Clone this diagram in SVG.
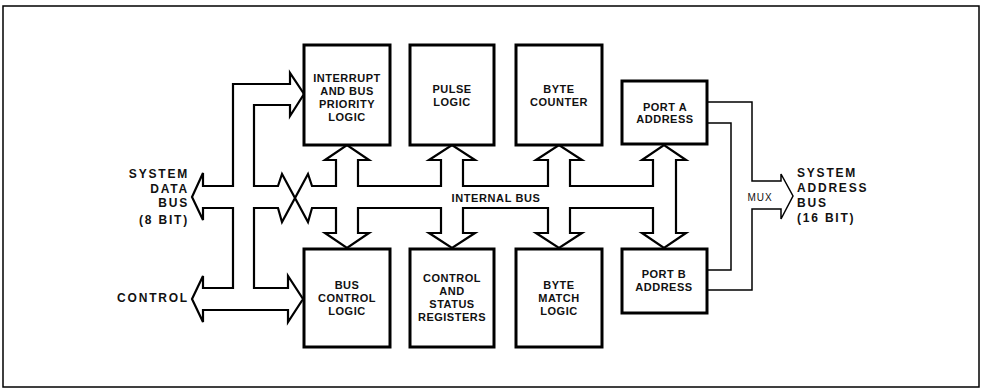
<svg xmlns="http://www.w3.org/2000/svg" width="984" height="391" viewBox="0 0 984 391">
<style>
.blk{fill:#fff;stroke:#000;stroke-width:3}
.bus{fill:none;stroke:#000;stroke-width:2.2;stroke-linejoin:miter}
.thin{fill:none;stroke:#000;stroke-width:1.5}
.t{font-family:"Liberation Sans",Arial,sans-serif;font-weight:bold;font-size:11px;letter-spacing:0.5px;text-anchor:middle;fill:#111}
.lbl{font-family:"Liberation Sans",Arial,sans-serif;font-weight:bold;font-size:12px;letter-spacing:1.8px;fill:#111}
.mux{font-family:"Liberation Sans",Arial,sans-serif;font-size:10px;letter-spacing:1px;text-anchor:middle;fill:#111}
</style>
<rect x="0" y="0" width="984" height="391" fill="#fff"/>
<rect x="3" y="6" width="976" height="381" fill="none" stroke="#000" stroke-width="1.5"/>
<g id="connectors">
<path class="bus" d="M233,186 H203 V173 L192,197 L203,220 V208 H233 V288 H203 V276 L192,299 L203,322 V310 H288 V322 L303,299 L288,276 V288 H254 V208 H278 L282,222 L308,174 L312,186 H336 V160 H325 L347,145 L369,160 H358 V186 H441 V160 H429 L452,145 L475,160 H463 V186 H548 V160 H536 L559,145 L582,160 H570 V186 H653 V160 H642 L664,145 L686,160 H676 V233 H686 L664,248 L642,233 H653 V208 H570 V233 H582 L559,248 L536,233 H548 V208 H463 V233 H475 L452,248 L429,233 H441 V208 H358 V233 H369 L347,248 L325,233 H336 V208 H312 L308,222 L282,174 L278,186 H254 V105 H290 V116 L304,94 L290,73 V84 H233 Z"/>
<path class="thin" d="M707,102 H752 V181 H781 V174 L793,196 L781,219 V209 H752 V290 H707"/>
<path class="thin" d="M707,123 H731 V270 H707"/>
</g>
<g id="interrupt"><rect class="blk" x="304" y="45" width="86" height="100"/>
<text class="t" x="347" y="82">INTERRUPT</text><text class="t" x="347" y="95">AND BUS</text><text class="t" x="347" y="108">PRIORITY</text><text class="t" x="347" y="121">LOGIC</text></g>
<g id="pulse"><rect class="blk" x="410" y="45" width="84" height="100"/>
<text class="t" x="452" y="93">PULSE</text><text class="t" x="452" y="106">LOGIC</text></g>
<g id="bytecounter"><rect class="blk" x="516" y="45" width="86" height="100"/>
<text class="t" x="559" y="93">BYTE</text><text class="t" x="559" y="106">COUNTER</text></g>
<g id="porta"><rect class="blk" x="622" y="81" width="85" height="63"/>
<text class="t" x="665" y="111">PORT A</text><text class="t" x="665" y="123">ADDRESS</text></g>
<g id="buscontrol"><rect class="blk" x="304" y="249" width="86" height="98"/>
<text class="t" x="347" y="289">BUS</text><text class="t" x="347" y="302">CONTROL</text><text class="t" x="347" y="315">LOGIC</text></g>
<g id="ctrlstatus"><rect class="blk" x="410" y="249" width="84" height="98"/>
<text class="t" x="452" y="282">CONTROL</text><text class="t" x="452" y="295">AND</text><text class="t" x="452" y="308">STATUS</text><text class="t" x="452" y="321">REGISTERS</text></g>
<g id="bytematch"><rect class="blk" x="516" y="249" width="86" height="98"/>
<text class="t" x="559" y="289">BYTE</text><text class="t" x="559" y="302">MATCH</text><text class="t" x="559" y="315">LOGIC</text></g>
<g id="portb"><rect class="blk" x="622" y="249" width="85" height="64"/>
<text class="t" x="664" y="278">PORT B</text><text class="t" x="664" y="291">ADDRESS</text></g>
<g id="labels">
<text class="lbl" x="189" y="178" text-anchor="end">SYSTEM</text>
<text class="lbl" x="189" y="193" text-anchor="end">DATA</text>
<text class="lbl" x="189" y="207" text-anchor="end">BUS</text>
<text class="lbl" x="189" y="224" text-anchor="end">(8 BIT)</text>
<text class="lbl" x="189" y="302" text-anchor="end">CONTROL</text>
<text class="lbl" x="797" y="177">SYSTEM</text>
<text class="lbl" x="797" y="192">ADDRESS</text>
<text class="lbl" x="797" y="207">BUS</text>
<text class="lbl" x="797" y="222">(16 BIT)</text>
<text class="t" x="496" y="202" style="letter-spacing:0.6px">INTERNAL BUS</text>
<text class="mux" x="760" y="201">MUX</text>
</g>
</svg>
